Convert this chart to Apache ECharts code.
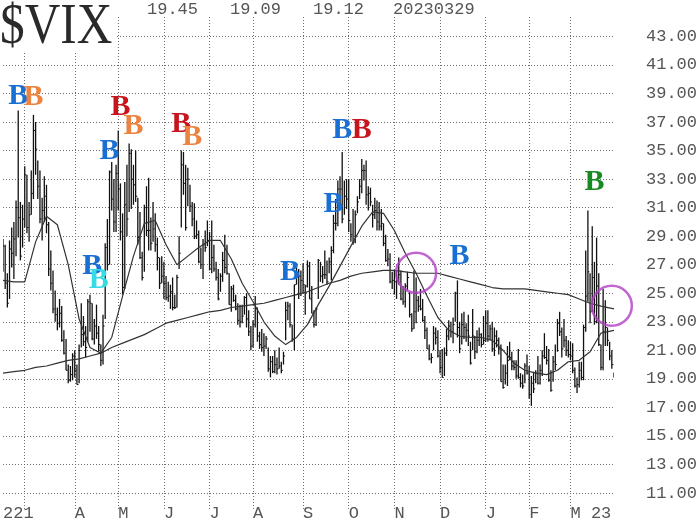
<!DOCTYPE html>
<html>
<head>
<meta charset="utf-8">
<script src="https://cdn.jsdelivr.net/npm/echarts@6/dist/echarts.min.js"></script>
<style>
  html, body { margin: 0; padding: 0; background: #fff; }
  #chart { width: 700px; height: 522px; }
</style>
</head>
<body>
<div id="chart"></div>
<script>
// ---- Daily $VIX bars, 2022-02-14 .. 2023-03-29 (trading-day index = position) ----
// lows
const barLow = [
  // Feb 2022
  26.5,25.3,24.0,24.6,26.8,26.0,27.6,28.9,27.3,28.2,
  // Mar 2022
  29.6,29.2,28.6,30.5,31.6,33.3,31.6,29.9,28.7,30.0,29.2,26.2,25.2,23.6,23.0,22.4,22.6,21.6,20.7,19.6,18.7,18.8,18.9,
  // Apr 2022
  19.1,18.6,18.7,21.2,21.3,20.5,21.6,22.3,21.7,21.4,21.8,20.9,19.9,20.0,23.2,26.6,27.0,30.8,29.3,29.3,
  // May 2022
  30.8,28.7,24.9,25.3,29.0,30.7,30.9,31.2,31.4,28.4,27.4,25.9,26.5,29.0,28.0,28.0,28.6,27.9,26.6,25.3,25.7,
  // Jun 2022
  24.6,24.5,24.4,23.9,23.8,23.9,24.0,26.7,29.6,31.9,29.4,31.1,30.7,29.7,28.8,28.8,27.1,26.7,26.0,27.9,28.3,
  // Jul 2022
  26.6,26.4,26.5,25.9,24.5,25.1,25.8,26.4,26.3,24.2,23.7,24.4,23.8,22.8,22.6,22.9,23.5,22.6,22.0,21.0,
  // Aug 2022
  21.2,22.6,21.6,21.1,20.9,20.6,21.1,19.5,19.1,19.4,19.4,19.3,19.7,19.4,20.0,21.7,23.1,22.6,21.6,21.0,25.6,24.6,24.8,
  // Sep 2022
  25.0,23.5,25.4,24.6,23.6,22.6,22.7,24.6,25.8,25.7,26.0,25.6,26.4,25.9,27.8,29.4,29.7,30.9,29.9,30.5,30.9,
  // Oct 2022
  29.3,28.6,28.4,28.5,30.6,31.6,32.0,32.9,31.2,30.8,31.1,29.6,30.2,29.4,29.4,29.4,28.3,27.2,26.9,25.7,25.3,
  // Nov 2022
  24.9,24.6,25.6,24.5,24.2,24.0,25.2,23.3,22.3,22.5,22.9,23.7,23.8,23.0,21.8,21.1,20.3,20.1,21.0,21.4,20.5,
  // Dec 2022
  19.4,19.1,19.2,20.6,21.7,21.9,21.5,23.0,21.9,20.8,21.4,21.8,21.6,21.3,20.0,21.0,20.4,20.8,21.3,21.2,21.4,
  // Jan 2023
  21.6,21.6,21.7,20.9,20.6,21.2,20.7,18.8,18.3,18.6,18.5,20.3,19.6,19.6,19.0,19.0,18.4,18.3,18.7,19.3,
  // Feb 2023
  17.6,17.1,18.0,18.7,18.6,18.6,19.2,20.4,20.0,18.8,18.1,18.8,19.6,20.9,22.0,20.5,21.2,20.6,20.5,
  // Mar 2023
  20.3,19.4,18.4,18.0,18.4,18.9,18.9,22.3,24.4,22.9,23.7,22.8,22.9,21.3,19.6,19.6,21.3,21.3,20.3,19.7,19.09
];
// highs
const barHigh = [
  28.8,28.4,26.4,28.7,29.6,30.0,31.5,37.8,31.4,31.2,
  33.9,33.3,31.4,33.6,37.5,37.0,34.3,33.6,31.7,33.2,32.6,30.0,28.0,26.6,25.2,24.0,24.6,24.1,22.4,21.8,20.0,19.9,20.8,
  21.0,20.0,21.4,24.3,23.4,22.7,24.6,24.9,24.3,23.2,24.2,22.7,21.4,23.5,28.5,30.2,33.6,34.2,33.0,34.0,
  36.4,32.7,30.6,32.8,34.0,35.5,35.1,34.0,35.0,31.7,30.7,27.9,31.2,32.5,33.1,30.3,31.4,30.6,28.9,27.5,27.6,
  27.2,26.2,25.8,25.6,26.1,24.9,26.3,29.0,35.0,34.9,34.0,33.8,32.6,31.4,31.3,30.1,29.4,28.2,28.8,29.4,30.1,
  29.3,30.1,28.4,27.2,26.7,26.4,27.9,29.1,28.4,26.4,25.5,25.6,24.9,24.3,24.2,24.2,24.8,25.0,23.8,22.7,
  23.1,24.8,24.0,22.3,22.5,22.2,22.0,21.2,20.6,20.6,21.0,20.5,21.2,20.2,20.9,24.4,24.4,24.3,22.8,25.6,27.1,26.7,26.6,
  27.1,25.6,27.3,27.2,25.5,23.8,24.0,27.4,27.2,26.9,28.0,27.3,27.5,28.3,30.5,31.6,32.9,33.2,34.9,32.9,33.0,
  33.0,29.9,30.9,30.8,31.8,33.0,34.4,34.0,34.3,32.5,32.4,31.2,31.7,31.5,31.4,30.9,29.9,29.1,28.1,27.8,26.5,
  26.6,26.6,27.5,26.6,25.5,25.7,26.5,25.1,23.6,26.6,26.1,24.8,25.3,24.6,23.4,22.6,21.4,20.8,22.7,22.6,22.4,
  21.0,21.1,21.2,22.5,23.1,23.0,23.3,25.1,25.9,23.0,23.6,23.7,22.9,23.5,21.6,23.9,22.0,22.4,22.6,22.2,23.4,
  23.8,23.8,22.8,23.0,22.6,22.4,21.9,21.4,20.0,20.0,21.3,21.6,20.9,20.3,20.3,21.1,19.4,19.3,20.1,20.7,
  19.9,19.2,19.5,19.6,20.6,20.0,21.0,22.2,21.3,21.1,19.6,20.6,21.4,23.2,23.7,22.6,23.2,22.0,21.7,
  21.6,21.5,19.8,19.1,20.2,20.2,22.8,28.0,30.8,26.4,29.7,27.2,28.9,26.4,21.4,25.3,24.5,22.6,21.6,21.0,19.45
];
// closes
const barClose = [
  28.3,25.7,24.3,28.1,27.8,28.8,31.0,30.3,27.6,30.2,
  33.3,29.6,30.5,32.0,36.4,35.1,32.5,30.2,30.8,31.8,29.8,26.7,25.7,23.9,23.5,22.9,23.6,21.7,20.8,19.6,18.9,19.3,20.6,
  19.6,18.6,21.0,22.1,21.6,21.2,24.4,24.3,21.8,22.7,22.2,21.4,20.3,22.7,28.2,27.0,33.5,31.6,30.0,33.4,
  32.3,29.3,25.4,31.2,30.2,34.8,33.0,32.6,31.8,28.9,27.5,26.1,31.0,29.4,29.4,28.5,29.5,28.4,27.5,25.7,26.2,
  25.7,24.7,24.8,25.1,24.0,24.0,26.1,27.8,34.0,32.7,29.6,33.0,31.1,30.2,29.0,29.1,27.2,27.0,28.4,28.2,28.7,
  26.7,27.5,26.7,26.1,24.6,26.2,27.3,26.8,26.4,24.2,25.3,24.5,23.9,23.1,23.0,23.4,24.7,23.2,22.3,21.3,
  22.8,23.9,22.0,21.4,21.2,21.3,21.8,19.7,20.2,19.5,20.0,19.7,19.9,19.6,20.6,23.8,24.1,22.8,21.8,25.6,26.2,26.2,25.9,
  25.6,25.5,26.9,24.6,23.6,22.8,23.9,27.3,26.2,26.3,26.3,25.8,27.2,28.0,29.9,29.9,32.3,32.3,30.2,31.8,31.6,
  30.1,29.1,28.6,30.5,31.4,32.5,33.6,33.6,31.9,32.0,31.4,30.5,30.8,30.0,29.7,29.9,28.5,27.3,27.4,25.8,25.9,
  25.8,25.9,26.3,24.6,24.4,25.5,26.1,23.5,22.5,23.7,24.5,24.1,23.9,23.1,22.4,21.1,20.4,20.5,22.2,21.9,20.6,
  19.8,19.1,20.8,22.0,22.7,22.3,22.8,25.0,22.6,21.1,22.8,22.6,22.4,22.0,20.1,22.0,20.9,21.7,22.1,21.4,21.7,
  22.9,22.0,22.5,21.1,22.0,21.7,21.1,18.8,18.4,19.4,20.3,20.5,19.9,19.8,19.2,19.1,18.7,18.5,19.9,19.4,
  17.9,18.7,18.3,19.4,18.7,19.6,20.6,20.5,20.3,18.9,18.2,20.2,20.0,22.9,22.3,21.1,21.7,21.0,20.7,
  20.6,19.6,18.5,18.6,19.6,19.1,22.6,24.8,26.5,23.7,26.1,23.0,25.5,21.4,19.8,22.3,22.6,21.7,20.6,20.0,19.12
];

// 20-day moving average, read at every 5th trading day
const ma20Idx = [0,5,10,15,20,25,30,35,40,45,50,55,60,65,70,75,80,85,90,95,100,105,110,115,120,125,130,135,140,145,150,155,160,165,170,175,180,185,190,195,200,205,210,215,220,225,230,235,240,245,250,255,260,265,270,275,281];
const ma20Val = [25.9,25.8,25.8,28.6,30.4,29.8,27.0,23.2,21.2,20.8,21.9,24.8,27.6,29.9,30.1,28.4,27.0,27.6,28.2,28.7,28.7,27.4,25.7,24.4,23.0,22.0,21.4,21.9,22.8,24.2,25.5,26.9,28.3,29.7,30.7,30.6,29.4,27.8,26.4,24.8,23.3,22.4,22.0,21.9,21.9,21.7,21.0,20.1,19.6,19.4,19.3,19.6,20.2,20.3,20.9,22.2,22.4];
// 200-day moving average, same sampling
const ma200Val = [19.4,19.5,19.6,19.8,19.9,20.1,20.3,20.4,20.6,20.8,21.2,21.5,21.8,22.1,22.5,22.9,23.1,23.3,23.5,23.7,23.8,24.0,24.1,24.2,24.3,24.5,24.7,24.9,25.1,25.4,25.7,25.9,26.2,26.4,26.5,26.6,26.6,26.5,26.4,26.4,26.4,26.2,26.0,25.8,25.6,25.4,25.3,25.3,25.3,25.2,25.1,25.0,24.9,24.6,24.3,24.1,23.9];

// month boundaries (trading-day index) and their labels
const tickIdx    = [0, 33, 53, 74, 95, 115, 138, 159, 180, 201, 222, 242, 261];
const tickLabels = ['221','A','M','J','J','A','S','O','N','D','J','F','M 23'];
const gridIdx    = [10, 33, 53, 74, 95, 115, 138, 159, 180, 201, 222, 242, 261];

// "B" signal letters: trading-day index, price level, kind
const sigIdx  = [6.5, 14.2, 54.0, 59.5, 49.4, 40.7, 44.4, 81.8, 87.3, 132.1, 151.7, 156.3, 165.4, 209.7, 271.8];
const sigVal  = [38.8, 38.75, 38.05, 36.7, 34.95, 26.9, 25.9, 36.85, 35.95, 26.5, 31.25, 36.45, 36.4, 27.6, 32.8];
const sigKind = ['blue','orange','red','orange','blue','blue','cyan','red','orange','blue','blue','blue','red','blue','green'];

// circled crossings
const circIdx = [190, 280];
const circVal = [26.44, 24.13];

// header texts
const headerTexts = ['19.45', '19.09', '19.12', '20230329'];
const yTicks = { min: 11, max: 44.36, step: 2 };

// ---------- build ----------
const palette = { blue: '#1a6fd2', orange: '#ea8440', red: '#c8141c', cyan: '#35dbe6', green: '#178a22' };
const kindList = Object.keys(palette);
const cats = barHigh.map((_, i) => 'd' + i);
const bars = barHigh.map((h, i) => [i, barLow[i], h, barClose[i]]);
const ma20 = ma20Idx.map((g, i) => [g, ma20Val[i]]);
const ma200 = ma20Idx.map((g, i) => [g, ma200Val[i]]);
const sigs = sigIdx.map((g, i) => [g, sigVal[i], kindList.indexOf(sigKind[i])]);
const circs = circIdx.map((g, i) => [g, circVal[i]]);
const labelMap = {};
tickIdx.forEach((g, i) => { labelMap[g] = tickLabels[i]; });

const nLines = Math.floor((yTicks.max - yTicks.min) / yTicks.step) + 2;
const hColors = [];
for (let i = 0; i < nLines; i++) hColors.push(i < nLines - 1 ? '#6e6e6e' : 'rgba(0,0,0,0)');

const monoFont = '"Liberation Mono", "DejaVu Sans Mono", monospace';
const headerX = [147, 230, 313, 393];
const gridDot = { color: '#6e6e6e', type: [1, 2], width: 1 };

const chart = echarts.init(document.getElementById('chart'), null, { renderer: 'canvas' });
chart.setOption({
  animation: false,
  backgroundColor: '#ffffff',
  grid: { left: 0, right: 84, top: 17, bottom: 29, containLabel: false },
  xAxis: {
    type: 'category',
    data: cats,
    boundaryGap: false,
    axisLine: { show: false },
    axisTick: {
      show: true,
      interval: (idx) => gridIdx.indexOf(idx) >= 0,
      length: 16,
      lineStyle: gridDot
    },
    axisLabel: {
      interval: (idx) => labelMap[idx] !== undefined,
      formatter: (v, idx) => labelMap[idx] || '',
      align: 'left',
      margin: 12,
      color: '#555',
      fontFamily: monoFont,
      fontSize: 17
    },
    splitLine: {
      show: true,
      interval: (idx) => gridIdx.indexOf(idx) >= 0,
      lineStyle: gridDot
    }
  },
  yAxis: {
    type: 'value',
    position: 'right',
    min: yTicks.min,
    max: yTicks.max,
    interval: yTicks.step,
    axisLine: { show: false },
    axisTick: { show: false },
    axisLabel: {
      margin: 32,
      align: 'left',
      color: '#555',
      fontFamily: monoFont,
      fontSize: 17,
      showMaxLabel: false,
      formatter: (v) => (Math.abs((v - yTicks.min) % yTicks.step) < 1e-6 ? v.toFixed(2) : '')
    },
    splitLine: { show: true, lineStyle: { color: hColors, type: [1, 2], width: 1 } }
  },
  graphic: [
    { type: 'rect', left: 0, top: 0, shape: { width: 116, height: 52 }, style: { fill: '#fff' }, z: 50 },
    { type: 'text', x: 0, y: 28, scaleX: 0.88, z: 51,
      style: { text: '$VIX', x: 0, y: 0, fill: '#2a2a2a', font: '56px "Liberation Serif", "DejaVu Serif", serif', verticalAlign: 'middle', align: 'left' } },
  ].concat(headerTexts.map((t, i) => ({
    type: 'text', x: headerX[i], y: 9, z: 51,
    style: { text: t, x: 0, y: 0, fill: '#555', font: '17px ' + monoFont, verticalAlign: 'middle', align: 'left' }
  }))),
  series: [
    {
      type: 'custom',
      name: 'VIX',
      data: bars,
      encode: { x: 0, y: [1, 2] },
      z: 3,
      clip: true,
      renderItem: (params, api) => {
        const g = api.value(0);
        const top = api.coord([g, api.value(2)]);
        const bot = api.coord([g, api.value(1)]);
        const c = api.coord([g, api.value(3)]);
        const x = top[0];
        return {
          type: 'group',
          children: [
            { type: 'line', shape: { x1: x, y1: top[1], x2: x, y2: bot[1] }, style: { stroke: '#111', lineWidth: 1.3 } },
            { type: 'line', shape: { x1: x, y1: c[1], x2: x + 1.6, y2: c[1] }, style: { stroke: '#111', lineWidth: 1 } }
          ]
        };
      }
    },
    {
      type: 'line', name: 'MA20', data: ma20, showSymbol: false, symbol: 'none', z: 4,
      lineStyle: { color: '#333', width: 1.2 }
    },
    {
      type: 'line', name: 'MA200', data: ma200, showSymbol: false, symbol: 'none', z: 4,
      lineStyle: { color: '#333', width: 1.2 }
    },
    {
      type: 'scatter', name: 'circles', data: circs, symbol: 'circle', symbolSize: 40, z: 6,
      itemStyle: { color: 'rgba(0,0,0,0)', borderColor: '#b23ec6', borderWidth: 2.5 },
      silent: true
    },
    {
      type: 'custom',
      name: 'signals',
      data: sigs,
      encode: { x: 0, y: 1 },
      z: 7,
      clip: false,
      silent: true,
      renderItem: (params, api) => {
        const p = api.coord([api.value(0), api.value(1)]);
        return {
          type: 'text',
          x: p[0], y: p[1],
          style: {
            text: 'B',
            fill: palette[kindList[api.value(2)]],
            font: 'bold 30px "Liberation Serif", "DejaVu Serif", serif',
            align: 'center',
            verticalAlign: 'middle'
          }
        };
      }
    }
  ]
});
</script>
</body>
</html>
